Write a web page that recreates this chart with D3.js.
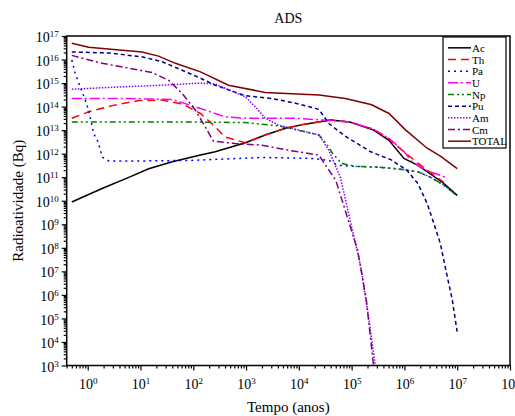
<!DOCTYPE html>
<html>
<head>
<meta charset="utf-8">
<script src="https://cdn.jsdelivr.net/npm/d3@7"></script>
<style>
  body { margin: 0; background: #fff; }
  svg { display: block; font-family: "Liberation Serif", "Times New Roman", serif; }
</style>
</head>
<body>
<svg id="chart" width="515" height="416"></svg>
<script>
// values: [tempo (anos), atividade (Bq)]
const ac = [[0.5, 8.9e9], [1.87, 3.3e10], [6, 9.8e10], [14.3, 2.3e11], [40, 4.5e11], [137, 8.7e11],
  [260, 1.2e12], [970, 2.9e12], [2300, 6.2e12], [5600, 1.2e13], [1.3e4, 1.8e13], [4e4, 2.7e13],
  [9.3e4, 2.2e13], [2.6e5, 1e13], [5.1e5, 3.7e12], [9.8e5, 6.3e11], [1.8e6, 3.2e11],
  [3.1e6, 1.4e11], [5.6e6, 5.4e10], [1e7, 1.7e10]];
const th = [[0.5, 3.2e13], [1.04, 6e13], [2.9, 1.1e14], [9.3, 1.8e14], [25.7, 1.9e14], [61.6, 1.3e14],
  [137, 5.1e13], [225, 1.9e13], [400, 5.1e12], [970, 2.9e12], [2300, 6.2e12], [5600, 1.2e13],
  [1.3e4, 1.8e13], [4e4, 2.7e13], [9.3e4, 2.2e13], [2.6e5, 1.1e13], [5.1e5, 4.2e12],
  [9.8e5, 1.2e12], [1.8e6, 4e11], [3.1e6, 1.6e11], [5.6e6, 6e10]];
const pa = [[0.5, 9.5e15], [0.58, 2.6e15], [0.72, 6.9e14], [0.9, 1.9e14], [1.04, 7e13], [1.3, 7.2e12],
  [1.57, 3.2e12], [1.73, 1.4e12], [1.93, 6.9e11], [2.5, 4.9e11], [10, 4.9e11], [100, 5.2e11],
  [2000, 6.9e11], [1.8e4, 6.3e11], [3.7e4, 5.2e11], [5.5e4, 3.2e11], [1.2e5, 2.9e11],
  [2.9e5, 2.7e11], [7e5, 2.3e11], [1.8e6, 1.7e11], [3.1e6, 1e11], [5.6e6, 4.6e10], [1e7, 1.6e10]];
const u = [[0.5, 2.2e14], [6, 2.2e14], [40, 2e14], [137, 8.3e13], [400, 3.7e13], [970, 3.2e13],
  [8600, 3.2e13], [2.8e4, 2.7e13], [9.3e4, 2.2e13], [2.6e5, 1.1e13], [5.1e5, 4.5e12],
  [9.3e5, 1.4e12], [1.4e6, 4.5e11], [2.7e6, 1.9e11], [6e6, 1e11]];
const np = [[0.5, 2.2e13], [137, 2.2e13], [970, 2.1e13], [4200, 1.5e13], [1.3e4, 8.5e12],
  [2.4e4, 6.2e12], [3.3e4, 2.7e12], [4.4e4, 1e12], [6.5e4, 3.8e11], [1.2e5, 2.9e11],
  [2.9e5, 2.7e11], [7e5, 2.3e11], [1.8e6, 1.7e11], [3.1e6, 1e11], [5.6e6, 4.6e10], [1e7, 1.6e10]];
const pu = [[0.5, 2.1e16], [2.5, 1.9e16], [10.7, 1.3e16], [25.7, 8.1e15], [61.6, 3.5e15], [137, 1.6e15],
  [260, 8.1e14], [970, 2.9e14], [3100, 2.2e14], [8600, 1.4e14], [2.4e4, 7.6e13], [3.7e4, 1.9e13],
  [7.6e4, 5.5e12], [2.3e5, 1.2e12], [5.5e5, 5.6e11], [1.1e6, 2e11], [1.8e6, 5.4e10],
  [2.7e6, 7.6e9], [3.6e6, 1.1e9], [4.8e6, 1.5e8], [6.5e6, 5.8e6], [8.1e6, 5.9e5], [1e7, 2.6e4]];
const am = [[0.5, 5.5e14], [2.9, 6.6e14], [25.7, 8.1e14], [137, 1e15], [260, 9.1e14], [970, 2.6e14],
  [1500, 9.8e13], [2300, 3.2e13], [4200, 1.6e13], [8600, 1.1e13], [2.4e4, 6.2e12], [3.7e4, 1.4e12],
  [6.1e4, 1e11], [9.1e4, 2e9], [1.5e5, 1.5e7], [2.1e5, 1.1e5], [2.8e5, 1e3]];
const cm = [[0.5, 1.5e16], [1.87, 6.9e15], [6, 4.3e15], [16.6, 2.8e15], [34.4, 1.3e15], [61.6, 3.6e14],
  [110, 7e13], [168, 1.4e13], [240, 3.4e12], [620, 2.7e12], [2000, 2.3e12], [6400, 1.4e12],
  [2.4e4, 8.7e11], [3.7e4, 2e11], [5e4, 7.4e10], [8.3e4, 2e9], [1.3e5, 7.8e7], [1.9e5, 5.9e5],
  [2.6e5, 1e3]];
const total = [[0.5, 4.9e16], [1.04, 3.3e16], [10.7, 2.1e16], [22, 1.4e16], [46, 6.9e15], [137, 3e15],
  [465, 8.1e14], [2300, 4e14], [2.4e4, 3.1e14], [7.6e4, 2.2e14], [2.4e5, 1.2e14], [5.1e5, 5.1e13],
  [1.06e6, 1e13], [2.7e6, 1.7e12], [4.8e6, 7.8e11], [1e7, 2.3e11]];

const names = ["Ac", "Th", "Pa", "U", "Np", "Pu", "Am", "Cm", "TOTAL"];
const values = [ac, th, pa, u, np, pu, am, cm, total];
const colors = ["#000000", "#ff0000", "#0000ff", "#ff00ff", "#008000", "#000080", "#8000ff", "#800080", "#800000"];
const dashes = [null, "8,5", "2,4", "10,3,2,3", "6,3,2,3,2,3", "4,3", "1.5,1.5", "7,3,2,3", null];

const xDecades = d3.range(0, 9);   // 10^0 .. 10^8
const yDecades = d3.range(3, 18);  // 10^3 .. 10^17

const svg = d3.select("#chart");
const mLeft = 66.7, mRight = 510, mTop = 36, mBottom = 365.5;

const x = d3.scaleLog().domain([0.4, 1e8]).range([mLeft, mRight]);
const y = d3.scaleLog().domain([1e3, 1e17]).range([mBottom, mTop]);

// minor tick values 2..9 per decade
const xMinor = [];
for (let e = -1; e < 8; e++) for (let k = 2; k <= 9; k++) {
  const v = k * Math.pow(10, e);
  if (v >= 0.4 && v <= 1e8) xMinor.push(v);
}
const yMinor = [];
for (let e = 3; e < 17; e++) for (let k = 2; k <= 9; k++) yMinor.push(k * Math.pow(10, e));

svg.append("clipPath").attr("id", "plot-clip")
  .append("rect").attr("x", mLeft).attr("y", mTop).attr("width", mRight - mLeft).attr("height", mBottom - mTop);

// lines
const line = d3.line().x(d => x(d[0])).y(d => y(d[1]));
svg.append("g").attr("clip-path", "url(#plot-clip)")
  .selectAll("path")
  .data(values)
  .join("path")
  .attr("d", d => line(d))
  .attr("fill", "none")
  .attr("stroke", (d, i) => colors[i])
  .attr("stroke-width", 1.5)
  .attr("stroke-dasharray", (d, i) => dashes[i]);

// frame
svg.append("rect").attr("x", mLeft).attr("y", mTop).attr("width", mRight - mLeft).attr("height", mBottom - mTop)
  .attr("fill", "none").attr("stroke", "#000").attr("stroke-width", 1.5);

function supLabels(sel, exps) {
  sel.selectAll(".tick text").each(function (d, i) {
    const t = d3.select(this).text("10");
    t.append("tspan").attr("dy", "-0.55em").attr("font-size", "9px").text(exps[i]);
  });
}

// x axis
const xAxisG = svg.append("g").attr("transform", `translate(0,${mBottom})`)
  .call(d3.axisBottom(x).tickValues(xDecades.map(e => Math.pow(10, e))).tickSize(5).tickPadding(9).tickFormat(() => ""));
xAxisG.select(".domain").remove();
xAxisG.selectAll("text").attr("font-size", "14px").attr("font-family", "Liberation Serif");
supLabels(xAxisG, xDecades);
svg.append("g").attr("transform", `translate(0,${mBottom})`)
  .call(d3.axisBottom(x).tickValues(xMinor).tickSize(3).tickFormat(() => ""))
  .select(".domain").remove();

// y axis
const yAxisG = svg.append("g").attr("transform", `translate(${mLeft},0)`)
  .call(d3.axisLeft(y).tickValues(yDecades.map(e => Math.pow(10, e))).tickSize(5).tickPadding(3).tickFormat(() => ""));
yAxisG.select(".domain").remove();
yAxisG.selectAll("text").attr("font-size", "14px").attr("font-family", "Liberation Serif").attr("dy", "0.4em");
supLabels(yAxisG, yDecades);
svg.append("g").attr("transform", `translate(${mLeft},0)`)
  .call(d3.axisLeft(y).tickValues(yMinor).tickSize(3).tickFormat(() => ""))
  .select(".domain").remove();
svg.selectAll(".tick line").attr("stroke-width", 1.2);

// titles
svg.append("text").attr("x", (mLeft + mRight) / 2).attr("y", 23).attr("text-anchor", "middle")
  .attr("font-size", "14px").text("ADS");
svg.append("text").attr("x", (mLeft + mRight) / 2).attr("y", 412).attr("text-anchor", "middle")
  .attr("font-size", "15px").text("Tempo (anos)");
svg.append("text").attr("transform", `translate(23,${(mTop + mBottom) / 2}) rotate(-90)`)
  .attr("text-anchor", "middle").attr("font-size", "15px").text("Radioatividade (Bq)");

// legend
const legend = svg.append("g").attr("transform", "translate(443,37)");
legend.append("rect").attr("width", 63).attr("height", 111)
  .attr("fill", "#fff").attr("stroke", "#000").attr("stroke-width", 1.2);
const rowY = d3.scaleBand().domain(names).range([5, 110]);
legend.selectAll("line")
  .data(names)
  .join("line")
  .attr("x1", 5).attr("x2", 28)
  .attr("y1", d => rowY(d) + rowY.bandwidth() / 2)
  .attr("y2", d => rowY(d) + rowY.bandwidth() / 2)
  .attr("stroke", (d, i) => colors[i])
  .attr("stroke-width", 1.5)
  .attr("stroke-dasharray", (d, i) => dashes[i]);
legend.selectAll("text")
  .data(names)
  .join("text")
  .attr("x", 29)
  .attr("y", d => rowY(d) + rowY.bandwidth() / 2 + 4)
  .attr("font-size", "11px")
  .text(d => d);
</script>
</body>
</html>
